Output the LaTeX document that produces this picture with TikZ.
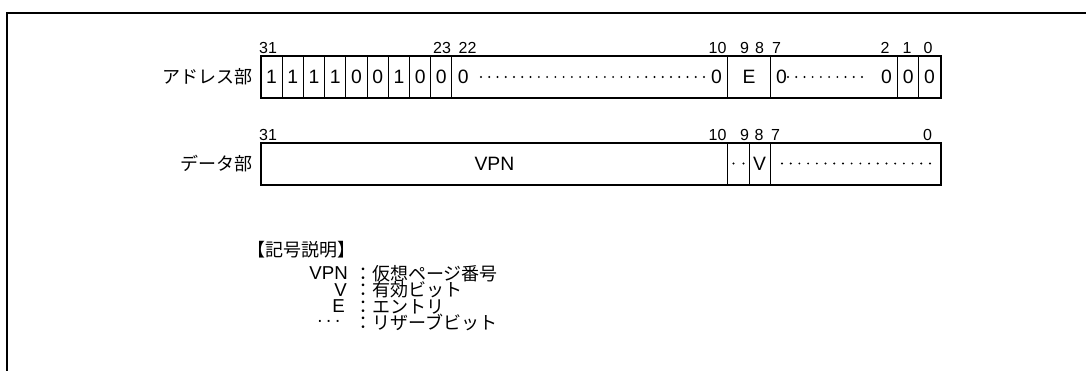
\documentclass[tikz,border=0pt]{standalone}
\usepackage{fontspec}
\setmainfont{Liberation Sans}
\newfontfamily\cellf[Scale=1.45]{Liberation Sans}
\newfontfamily\lblf[Scale=1.2]{Liberation Sans}
\newfontfamily\legf[Scale=1.4]{Liberation Sans}
\newfontfamily\jpf[Scale=1.35]{Noto Sans CJK JP}
\newcommand\mydots[4]{\foreach \k in {1,...,#3} \fill ({#1+(\k-1)*(#2-#1)/(#3-1)},#4) circle[radius=0.8pt];}
\tikzset{
  frameline/.style={line width=1.5pt},
  field/.style={draw, line width=0.75pt, inner sep=0pt, minimum height=30.75pt, font=\cellf},
  outer/.style={line width=1.5pt},
  bitlbl/.style={inner sep=0pt, font=\lblf},
  jplbl/.style={inner sep=0pt, font=\jpf, text height=9.5pt, text depth=1pt},
  legkey/.style={inner sep=0pt, font=\legf},
  celltext/.style={inner sep=0pt, font=\cellf}
}
\begin{document}
\begin{tikzpicture}[x=0.75pt,y=-0.75pt]
\useasboundingbox (0,0) rectangle (1086,371);
\draw[frameline] (7,372) -- (7,13) -- (1087,13);

% ---------- address row ----------
\node[jplbl, anchor=east] (alab) at (253,78) {アドレス部};
\foreach \v [count=\i from 0] in {1,1,1,1,0,0,1,0,0}
  \node[field, minimum width=15.915pt] (c\i) at ({261+(\i+0.5)*21.22},77) {\v};
\node[field, minimum width=206.9pt] (a2210) at ({261+15.5*21.22},77) {};
\node[field, minimum width=31.83pt] (aE) at ({261+23*21.22},77) {E};
\node[field, minimum width=95.49pt] (a72) at ({261+27*21.22},77) {};
\node[field, minimum width=15.915pt] (a1) at ({261+30.5*21.22},77) {0};
\node[field, minimum width=15.915pt] (a0) at ({261+31.5*21.22},77) {0};
\draw[outer] (c0.north west) rectangle (a0.south east);
\node[celltext] (z22) at (463.3,77) {0};
\node[celltext] (z10) at (716.5,77) {0};
\mydots{481}{704}{28}{77}
\node[celltext] (z7) at (781.5,77) {0};
\node[celltext] (z2) at (886.5,77) {0};
\mydots{788}{862}{10}{77}

% address bit labels
\node[bitlbl] (l31) at (268,48) {31};
\node[bitlbl] (l23) at (442,48) {23};
\node[bitlbl] (l22) at (467.5,48) {22};
\node[bitlbl] (l10) at (717.5,48) {10};
\node[bitlbl] (l9) at (744.5,48) {9};
\node[bitlbl] (l8) at (759.5,48) {8};
\node[bitlbl] (l7) at (776.5,48) {7};
\node[bitlbl] (l2) at (885,48) {2};
\node[bitlbl] (l1) at (907,48) {1};
\node[bitlbl] (l0) at (928,48) {0};

% ---------- data row ----------
\node[jplbl, anchor=east] (dlab) at (253,165) {データ部};
\node[field, minimum width=350.13pt] (dvpn) at ({261+11*21.22},164) {VPN};
\node[field, minimum width=15.915pt] (d9) at ({261+22.5*21.22},164) {};
\node[field, minimum width=15.915pt] (d8) at ({261+23.5*21.22},164) {V};
\node[field, minimum width=127.32pt] (d7) at ({261+28*21.22},164) {};
\draw[outer] (dvpn.north west) rectangle (d7.south east);
\mydots{733.5}{743.5}{2}{163.5}
\mydots{782}{930}{18}{163.5}

\node[bitlbl] (m31) at (268,135) {31};
\node[bitlbl] (m10) at (717.5,135) {10};
\node[bitlbl] (m9) at (744.5,135) {9};
\node[bitlbl] (m8) at (759,135) {8};
\node[bitlbl] (m7) at (775.5,135) {7};
\node[bitlbl] (m0) at (927.5,135) {0};

% ---------- legend ----------
\node[jplbl, anchor=west] (lt) at (247,251) {【記号説明】};
\node[legkey, anchor=east] (k1) at (348,273.5) {VPN};
\node[jplbl, anchor=west] (t1) at (354,274.5) {：仮想ページ番号};
\node[legkey, anchor=east] (k2) at (347,290) {V};
\node[jplbl, anchor=west] (t2) at (354,291) {：有効ビット};
\node[legkey, anchor=east] (k3) at (345,306.5) {E};
\node[jplbl, anchor=west] (t3) at (354,307.5) {：エントリ};
\node[legkey, anchor=east] (k4) at (341,323) {·\kern2pt·\kern2pt·};
\node[jplbl, anchor=west] (t4) at (354,324) {：リザーブビット};
\end{tikzpicture}
\end{document}
